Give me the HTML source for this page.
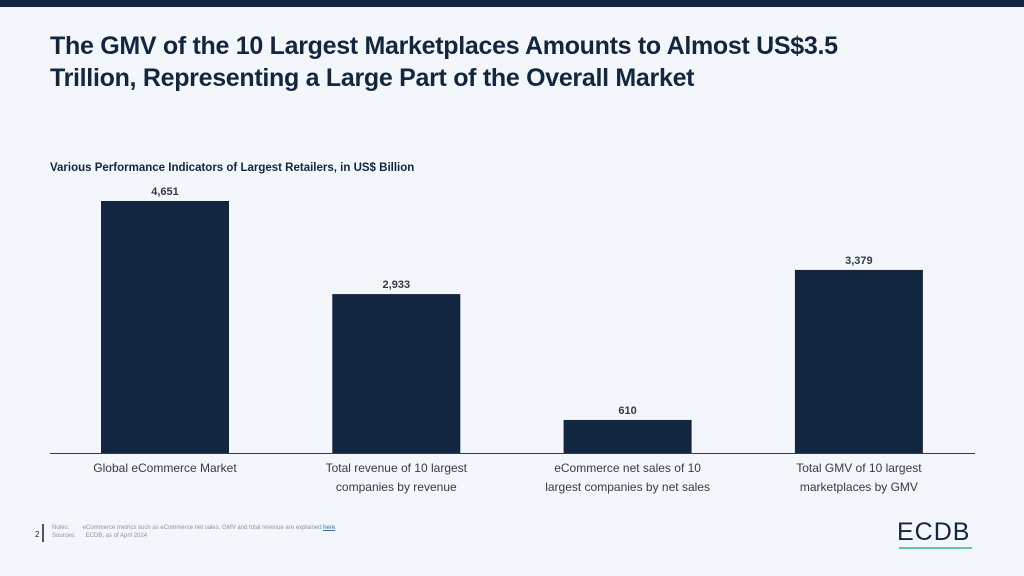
<!DOCTYPE html>
<html><head><meta charset="utf-8"><style>
body{margin:0;width:1024px;height:576px;background:#f3f6fa;font-family:"Liberation Sans",sans-serif;position:relative;overflow:hidden}
.topbar{position:absolute;left:0;top:0;width:1024px;height:7px;background:#12263f}
h1{position:absolute;left:50px;top:30px;margin:0;font-size:25px;line-height:32px;color:#12263f;font-weight:bold;letter-spacing:-0.3px}
.sub{position:absolute;left:50px;top:162px;font-size:11.5px;font-weight:bold;color:#12263f}
.foot{position:absolute;font-size:6px;color:#8a94a3}
</style></head><body>
<div class="topbar"></div>
<h1>The GMV of the 10 Largest Marketplaces Amounts to Almost US$3.5<br>Trillion, Representing a Large Part of the Overall Market</h1>
<div class="sub">Various Performance Indicators of Largest Retailers, in US$ Billion</div>
<svg id="chart" width="1024" height="576" style="position:absolute;left:0;top:0"></svg>
<div class="foot" style="left:35px;top:530px;font-size:8px;color:#12263f">2</div>
<div style="position:absolute;left:42px;top:524px;width:2px;height:18px;background:#4a5566"></div>
<div class="foot" style="left:52px;top:525px">Notes:&nbsp;&nbsp;&nbsp;&nbsp;&nbsp;&nbsp;&nbsp;&nbsp;eCommerce metrics such as eCommerce net sales, GMV and total revenue are explained <u style="color:#3a6fb0">here</u>.</div>
<div class="foot" style="left:52px;top:533px">Sources:&nbsp;&nbsp;&nbsp;&nbsp;&nbsp;&nbsp;ECDB, as of April 2024</div>
<div style="position:absolute;left:897px;top:518px;font-size:25px;color:#12263f;letter-spacing:1px">ECDB</div>
<div style="position:absolute;left:899px;top:547px;width:73px;height:2px;background:#5fc4a8"></div>
<script>
const categories=[["Global eCommerce Market"],["Total revenue of 10 largest","companies by revenue"],["eCommerce net sales of 10","largest companies by net sales"],["Total GMV of 10 largest","marketplaces by GMV"]];
const values=[4651,2933,610,3379];
const labels=["4,651","2,933","610","3,379"];
const svg=document.getElementById('chart');const NS='http://www.w3.org/2000/svg';
const base=453,top0=201,maxV=4651;
const y=v=>base-(v/maxV)*(base-top0);
const x=i=>165+i*231.3;
function mk(t,a){const e=document.createElementNS(NS,t);for(const k in a)e.setAttribute(k,a[k]);svg.appendChild(e);return e;}
values.forEach((v,i)=>{
 const r=mk('rect',{x:x(i)-64,y:y(v),width:128,height:base-y(v),fill:'#12263f'});
 
 
 const t=mk('text',{x:x(i),y:y(v)-6,'text-anchor':'middle','font-size':'11','font-weight':'bold',fill:'#333c48','font-family':'Liberation Sans'});
 t.textContent=labels[i];
 
 
 categories[i].forEach((line,j)=>{
  const c=mk('text',{x:x(i),y:472+j*19,'text-anchor':'middle','font-size':'12',fill:'#333c48','font-family':'Liberation Sans'});
  c.textContent=line;
  
  
 });
});
const ax=mk('line',{x1:50,x2:975,y1:base+0.5,y2:base+0.5,stroke:'#333c48','stroke-width':1});


</script>
</body></html>
